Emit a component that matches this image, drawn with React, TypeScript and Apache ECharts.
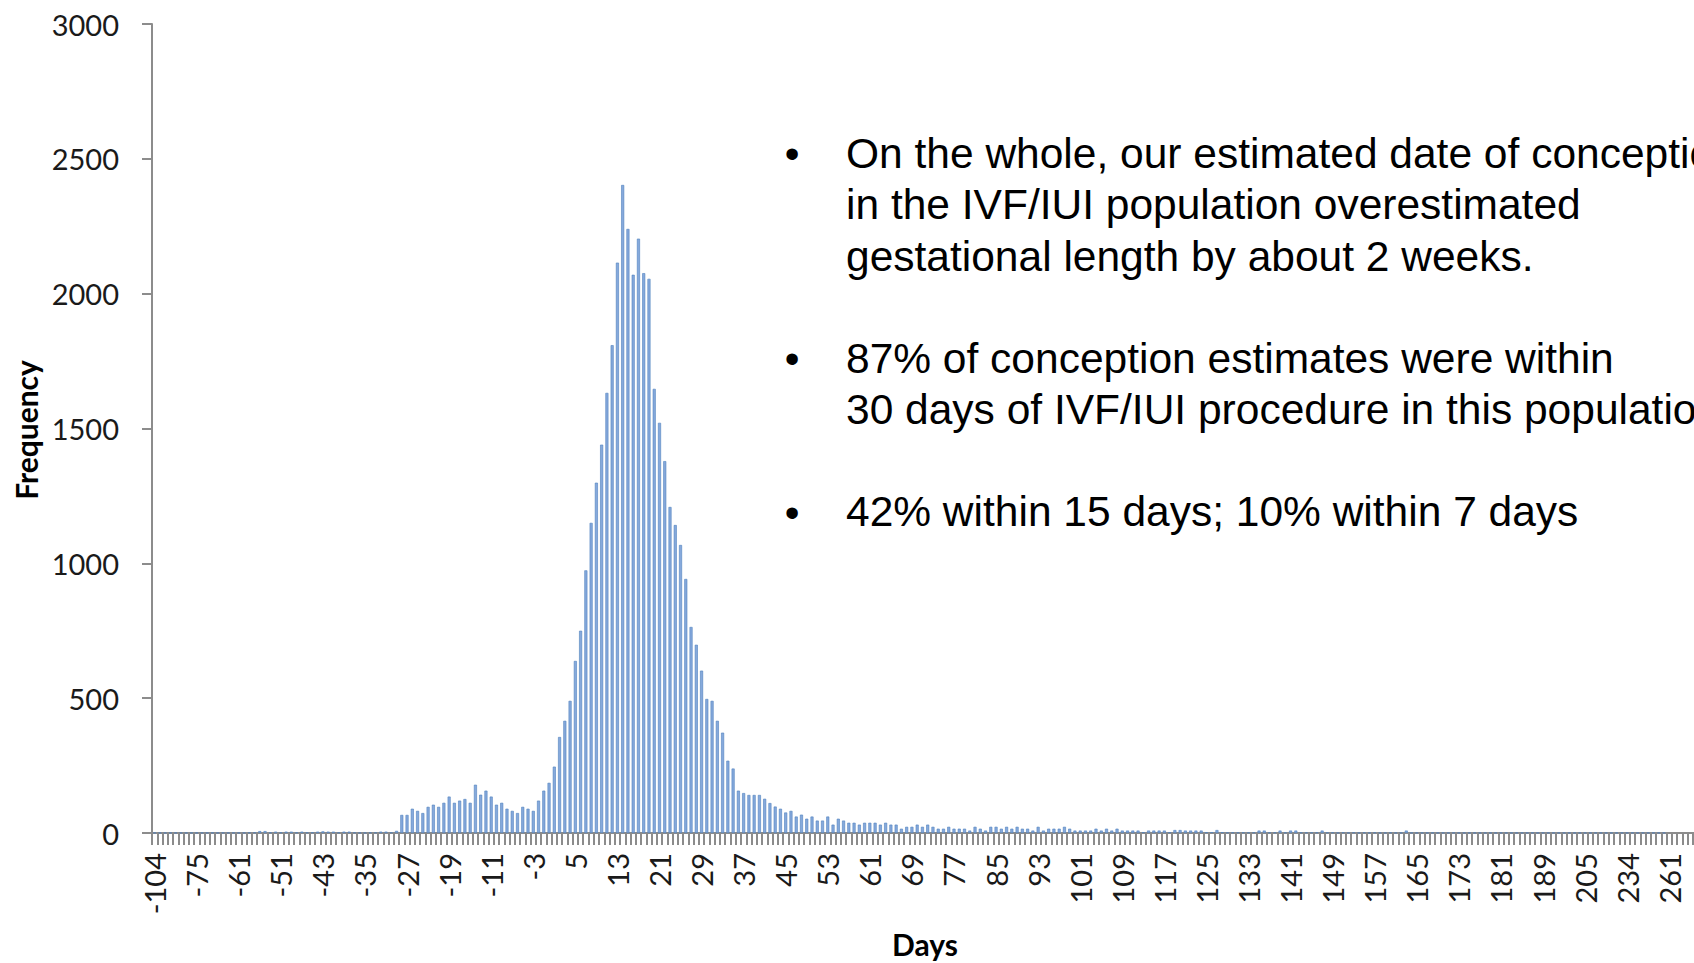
import React, { useEffect, useRef } from "react";
import * as echarts from "echarts";

// Day categories (x axis). The early and late tails skip some days.
const dayCategories: number[] = [
  -104, -98, -93, -89, -86, -83, -80, -77, -75, -73, -71, -69, -67, -65, -64, -62,
  -61, -60, -58, -57, -56, -55, -54, -53,
  -51, -50, -49, -48, -47, -46, -45, -44, -43, -42, -41, -40, -39, -38, -37, -36,
  -35, -34, -33, -32, -31, -30, -29, -28, -27, -26, -25, -24, -23, -22, -21, -20,
  -19, -18, -17, -16, -15, -14, -13, -12, -11, -10, -9, -8, -7, -6, -5, -4,
  -3, -2, -1, 0, 1, 2, 3, 4, 5, 6, 7, 8, 9, 10, 11, 12,
  13, 14, 15, 16, 17, 18, 19, 20, 21, 22, 23, 24, 25, 26, 27, 28,
  29, 30, 31, 32, 33, 34, 35, 36, 37, 38, 39, 40, 41, 42, 43, 44,
  45, 46, 47, 48, 49, 50, 51, 52, 53, 54, 55, 56, 57, 58, 59, 60,
  61, 62, 63, 64, 65, 66, 67, 68, 69, 70, 71, 72, 73, 74, 75, 76,
  77, 78, 79, 80, 81, 82, 83, 84, 85, 86, 87, 88, 89, 90, 91, 92,
  93, 94, 95, 96, 97, 98, 99, 100, 101, 102, 103, 104, 105, 106, 107, 108,
  109, 110, 111, 112, 113, 114, 115, 116, 117, 118, 119, 120, 121, 122, 123, 124,
  125, 126, 127, 128, 129, 130, 131, 132, 133, 134, 135, 136, 137, 138, 139, 140,
  141, 142, 143, 144, 145, 146, 147, 148, 149, 150, 151, 152, 153, 154, 155, 156,
  157, 158, 159, 160, 161, 162, 163, 164, 165, 166, 167, 168, 169, 170, 171, 172,
  173, 174, 175, 176, 177, 178, 179, 180, 181, 182, 183, 184, 185, 186, 187, 188,
  189, 191, 193, 195, 197, 199, 201, 203,
  205, 208, 212, 215, 219, 223, 226, 230,
  234, 237, 240, 244, 247, 250, 254, 258,
  261, 265, 270, 276, 283, 291, 300, 312,
];

// Frequency per day category
const frequency: number[] = [
  1, 1, 1, 1, 1, 1, 1, 1, 1, 1, 1, 1, 1, 1, 1, 1,
  1, 1, 2, 2, 7, 7, 2, 5,
  2, 5, 5, 2, 5, 2, 2, 5, 6, 5, 5, 2, 5, 5, 2, 1,
  1, 2, 2, 5, 5, 2, 8, 67, 67, 90, 82, 74, 97, 105, 97, 112,
  135, 112, 120, 126, 112, 179, 142, 157, 135, 105, 112, 90, 82, 74, 97, 90,
  82, 120, 157, 186, 246, 356, 416, 490, 638, 750, 974, 1150, 1299, 1440, 1632, 1809,
  2115, 2403, 2240, 2070, 2204, 2076, 2055, 1647, 1521, 1379, 1209, 1142, 1068, 942, 764, 698,
  602, 497, 490, 416, 372, 268, 239, 157, 148, 141, 141, 141, 127, 111, 98, 90,
  76, 82, 61, 68, 53, 61, 46, 46, 61, 31, 53, 46, 38, 38, 31, 38,
  38, 38, 31, 38, 31, 31, 16, 23, 23, 31, 23, 31, 23, 16, 16, 23,
  16, 16, 16, 9, 23, 16, 9, 23, 23, 16, 23, 16, 23, 16, 16, 9,
  23, 9, 16, 16, 16, 23, 16, 9, 9, 9, 9, 16, 9, 16, 9, 16,
  9, 9, 9, 9, 3, 9, 9, 9, 9, 3, 11, 11, 9, 9, 9, 9,
  3, 3, 11, 3, 2, 2, 2, 2, 2, 2, 9, 9, 2, 2, 9, 2,
  9, 9, 2, 2, 2, 2, 9, 2, 2, 1, 2, 1, 2, 1, 2, 1,
  2, 1, 1, 2, 1, 1, 9, 1, 1, 1, 1, 1, 1, 1, 1, 1,
  1, 1, 1, 1, 1, 1, 1, 1, 1, 1, 1, 1, 1, 1, 1, 1,
  1, 1, 1, 1, 1, 1, 1, 1, 1, 1, 1, 1, 1, 1, 1, 1,
  1, 1, 1, 1, 1, 1, 1, 1,
];

const yTicks = { min: 0, max: 3000, interval: 500 };

const bullet1 = [
  "On the whole, our estimated date of conception",
  "in the IVF/IUI population overestimated",
  "gestational length by about 2 weeks.",
];
const bullet2 = [
  "87% of conception estimates were within",
  "30 days of IVF/IUI procedure in this population",
];
const bullet3 = ["42% within 15 days; 10% within 7 days"];

export default function App() {
  const ref = useRef<HTMLDivElement>(null);

  useEffect(() => {
    if (!ref.current) return;
    const chart = echarts.init(ref.current, undefined, { renderer: "svg" });
    const catW = 5.259;
    const axisColor = "#8c8c8c";
    const labelFont = "Lato, 'Open Sans', sans-serif";
    const textFont = "'Liberation Sans', Arial, sans-serif";
    const lineH = 51.3;
    const bulletBlock = (lines: string[], y0: number) => [
      {
        type: "text",
        x: 792,
        y: y0,
        style: {
          text: "\u2022",
          fontSize: 42,
          fontFamily: textFont,
          fill: "#000",
          align: "center",
          verticalAlign: "middle",
        },
      },
      {
        type: "text",
        x: 846,
        y: y0 - lineH / 2,
        style: {
          text: lines.join("\n"),
          fontSize: 42.5,
          lineHeight: lineH,
          fontFamily: textFont,
          fill: "#000",
          align: "left",
          verticalAlign: "top",
        },
      },
    ];

    chart.setOption({
      animation: false,
      backgroundColor: "#ffffff",
      grid: {
        left: 152,
        top: 24,
        width: catW * dayCategories.length,
        height: 809,
        containLabel: false,
      },
      xAxis: {
        type: "category",
        data: dayCategories.map(String),
        boundaryGap: true,
        axisLine: { show: true, lineStyle: { color: axisColor, width: 2 } },
        axisTick: {
          show: true,
          interval: 0,
          length: 12,
          lineStyle: { color: axisColor, width: 2 },
        },
        axisLabel: {
          interval: 7,
          rotate: 90,
          margin: 20,
          fontFamily: labelFont,
          fontSize: 29,
          color: "#1a1a1a",
        },
        splitLine: { show: false },
      },
      yAxis: {
        type: "value",
        min: yTicks.min,
        max: yTicks.max,
        interval: yTicks.interval,
        axisLine: { show: true, lineStyle: { color: axisColor, width: 2 } },
        axisTick: { show: true, length: 10, lineStyle: { color: axisColor, width: 2 } },
        axisLabel: {
          margin: 33,
          fontFamily: labelFont,
          fontSize: 29,
          color: "#1a1a1a",
          formatter: (v: number) => String(v),
        },
        splitLine: { show: false },
      },
      series: [
        {
          type: "bar",
          data: frequency,
          barWidth: 3,
          itemStyle: {
            color: "#86a9dc",
            borderColor: "#4f81bd",
            borderWidth: 0.6,
          },
        },
      ],
      graphic: [
        {
          type: "text",
          x: 26,
          y: 430,
          rotation: Math.PI / 2,
          style: {
            text: "Frequency",
            fontSize: 30,
            fontWeight: "bold",
            fontFamily: labelFont,
            fill: "#000",
            align: "center",
            verticalAlign: "middle",
          },
        },
        {
          type: "text",
          x: 925,
          y: 944,
          style: {
            text: "Days",
            fontSize: 30,
            fontWeight: "bold",
            fontFamily: labelFont,
            fill: "#000",
            align: "center",
            verticalAlign: "middle",
          },
        },
        ...bulletBlock(bullet1, 153.4),
        ...bulletBlock(bullet2, 358.7),
        ...bulletBlock(bullet3, 512),
      ],
    });
    return () => chart.dispose();
  }, []);

  return (
    <div
      style={{
        position: "fixed",
        left: 0,
        top: 0,
        width: 1694,
        height: 963,
        overflow: "hidden",
        background: "#fff",
      }}
    >
      <div ref={ref} style={{ width: 1780, height: 963 }} />
    </div>
  );
}
